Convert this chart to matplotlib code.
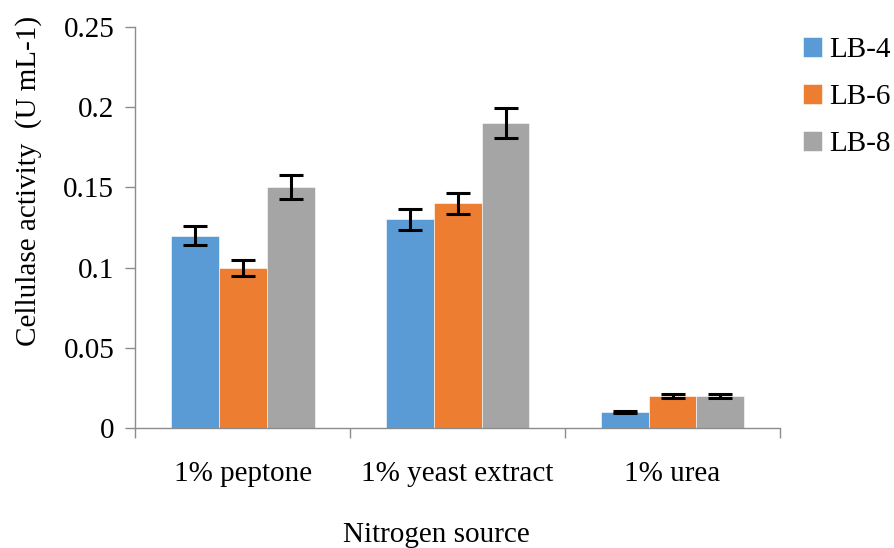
import matplotlib
matplotlib.use("Agg")
import matplotlib.pyplot as plt
import numpy as np

plt.rcParams['font.family'] = ['Liberation Serif', 'DejaVu Serif']

sources = ['1% peptone', '1% yeast extract', '1% urea']
strains = ['LB-4', 'LB-6', 'LB-8']
activity = {
    'LB-4': [0.12, 0.13, 0.01],
    'LB-6': [0.10, 0.14, 0.02],
    'LB-8': [0.15, 0.19, 0.02],
}
errors = {
    'LB-4': [0.006, 0.0065, 0.0008],
    'LB-6': [0.005, 0.0065, 0.001],
    'LB-8': [0.0075, 0.0095, 0.001],
}
colors = ['#5b9bd5', '#ed7d31', '#a5a5a5']

fig = plt.figure(figsize=(8.95, 5.48), dpi=100)
ax = fig.add_axes([0.151, 0.219, 0.7205, 0.7317])

x = np.arange(len(sources))
w = 0.223
for i, s in enumerate(strains):
    ax.bar(x + (i - 1) * w, activity[s], w, color=colors[i], label=s,
           edgecolor='white', linewidth=0.4,
           yerr=errors[s], capsize=8.5,
           error_kw=dict(ecolor='black', elinewidth=2.2, capthick=2.2))

ax.set_xlim(-0.5, 2.5)
ax.set_ylim(0, 0.25)
ax.set_yticks([0, 0.05, 0.1, 0.15, 0.2, 0.25])
ax.set_yticklabels(['0', '0.05', '0.1', '0.15', '0.2', '0.25'])
ax.set_xticks(x)
ax.set_xticklabels(sources)
ax.set_xticks([-0.5, 0.5, 1.5, 2.5], minor=True)
ax.tick_params(axis='x', which='major', length=0, pad=24, labelsize=21)
ax.tick_params(axis='x', which='minor', length=7, color='#8c8c8c', width=1)
ax.tick_params(axis='y', length=7, color='#8c8c8c', width=1, pad=8, labelsize=21)

for side in ['top', 'right']:
    ax.spines[side].set_visible(False)
for side in ['left', 'bottom']:
    ax.spines[side].set_color('#8c8c8c')
    ax.spines[side].set_linewidth(1)

ax.set_ylabel('Cellulase activity  (U mL-1)', fontsize=21)
ax.yaxis.set_label_coords(-0.145, 0.616)
ax.set_xlabel('Nitrogen source', fontsize=21)
ax.xaxis.set_label_coords(0.467, -0.235)

ax.legend(loc='upper left', bbox_to_anchor=(0.995, 1.04), frameon=False,
          fontsize=21, handlelength=0.65, handleheight=0.65,
          handletextpad=0.25, labelspacing=0.72, borderaxespad=0.5)

fig.savefig('out.png', dpi=100)
